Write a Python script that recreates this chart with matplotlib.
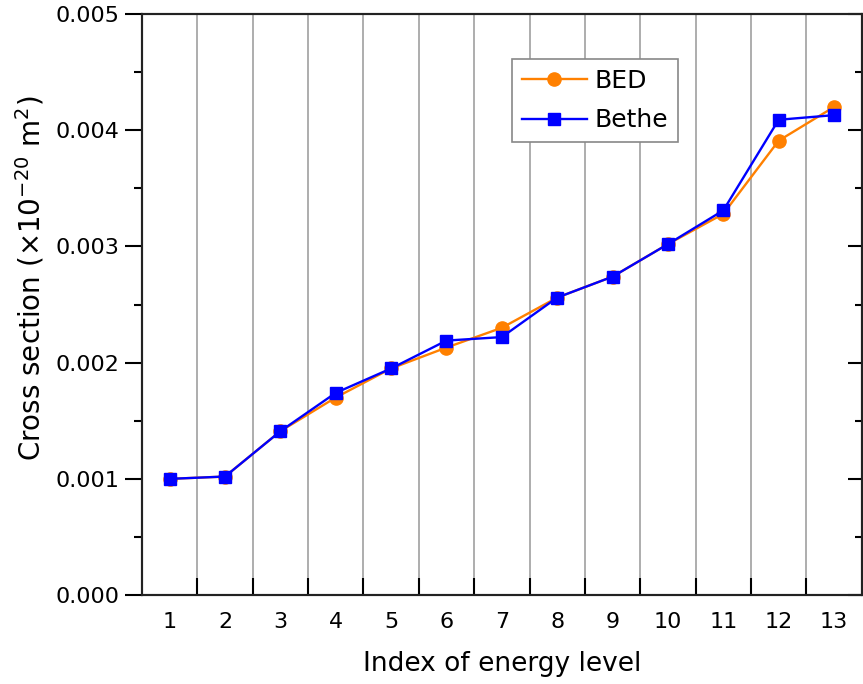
import numpy as np
import matplotlib.pyplot as plt
from matplotlib.ticker import MultipleLocator

levels = list(range(1, 14))
bed = [1.00e-3, 1.02e-3, 1.41e-3, 1.70e-3, 1.95e-3, 2.13e-3, 2.30e-3,
       2.56e-3, 2.74e-3, 3.02e-3, 3.28e-3, 3.91e-3, 4.20e-3]
bethe = [1.00e-3, 1.02e-3, 1.41e-3, 1.74e-3, 1.95e-3, 2.19e-3, 2.22e-3,
         2.56e-3, 2.74e-3, 3.02e-3, 3.31e-3, 4.09e-3, 4.13e-3]

plt.rcParams['font.family'] = ['DejaVu Sans']

fig = plt.figure(figsize=(8.63, 6.84), dpi=100)
ax = fig.add_axes([0.1645, 0.130, 0.834, 0.8495])

ax.plot(levels, bed, color='#ff8000', lw=1.7, marker='o', ms=9.5, label='BED', zorder=3)
ax.plot(levels, bethe, color='#0000ff', lw=1.7, marker='s', ms=8.5, label='Bethe', zorder=4)

ax.set_xlim(0.5, 13.5)
ax.set_ylim(0, 0.005)

# x: ticks at half positions, labels at integers
ax.set_xticks(np.arange(1.5, 13.5, 1.0))
ax.set_xticklabels([])
ax.set_xticks(levels, minor=True)
ax.set_xticklabels([str(i) for i in levels], minor=True)
ax.tick_params(axis='x', which='major', direction='in', length=12, width=1.5, top=False)
ax.tick_params(axis='x', which='minor', length=0, pad=12, labelsize=16)
ax.grid(axis='x', which='major', color='#a0a0a0', lw=1.2)

ax.yaxis.set_major_locator(MultipleLocator(0.001))
ax.yaxis.set_minor_locator(MultipleLocator(0.0005))
ax.yaxis.set_major_formatter(plt.FuncFormatter(lambda v, p: '%.3f' % v))
ax.tick_params(axis='y', which='major', direction='out', length=12, width=1.5, labelsize=16, pad=4)
ax.tick_params(axis='y', which='minor', direction='out', length=6, width=1.5)

ax2 = ax.twinx()
ax2.set_ylim(ax.get_ylim())
ax2.yaxis.set_major_locator(MultipleLocator(0.001))
ax2.yaxis.set_minor_locator(MultipleLocator(0.0005))
ax2.tick_params(axis='y', which='major', direction='in', length=10, width=1.5, labelright=False)
ax2.tick_params(axis='y', which='minor', direction='in', length=5, width=1.5)

for a in (ax, ax2):
    for s in a.spines.values():
        s.set_linewidth(1.5)
        s.set_color('#222222')

ax.set_xlabel('Index of energy level', fontsize=19, labelpad=14)
ax.set_ylabel('Cross section (×10$^{-20}$ m$^{2}$)', fontsize=20)
ax.yaxis.set_label_coords(-0.132, 0.546)

leg = ax.legend(loc='upper left', bbox_to_anchor=(0.514, 0.923), fontsize=18,
                fancybox=False, framealpha=1, edgecolor='#888888',
                handlelength=2.6, borderpad=0.4, labelspacing=0.62,
                handletextpad=0.3, borderaxespad=0)
leg.get_frame().set_linewidth(1.2)

fig.savefig('out.png', dpi=100)
